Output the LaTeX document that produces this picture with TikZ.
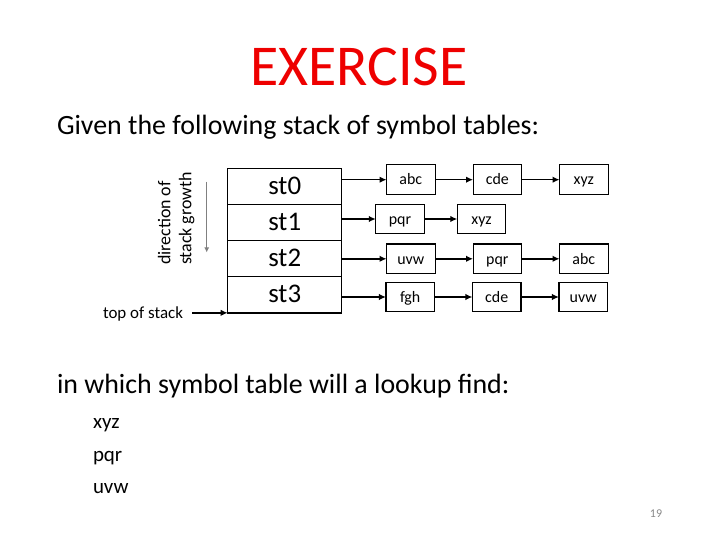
\documentclass[tikz,border=0pt]{standalone}
\usepackage{fontspec}
\setmainfont{Carlito}
\usepackage{xcolor}
\usetikzlibrary{arrows.meta,positioning}
\definecolor{titlered}{RGB}{238,0,0}
\definecolor{growgray}{RGB}{128,128,128}
\definecolor{pagegray}{RGB}{137,137,137}

\begin{document}
\begin{tikzpicture}[x=1bp,y=-1bp,node distance=38bp,>={Latex[length=7bp,width=6.5bp]},
  every node/.style={inner sep=0pt,outer sep=0pt},
  stk/.style={draw,line width=1.3bp,minimum width=114bp,minimum height=36.1bp,text height=19bp,text depth=3.4bp,font=\fontsize{27}{30}\selectfont},
  tab/.style={draw,line width=1.1bp,minimum width=48.5bp,minimum height=29.5bp,text height=13bp,text depth=2.4bp,font=\fontsize{16}{18}\selectfont},
  link/.style={->,line width=1.5bp}]
\useasboundingbox (0,0) rectangle (720,540);
\node[font=\fontsize{58}{62}\selectfont,text=titlered,anchor=base] (title) at (359,86) {EXERCISE};
\node[font=\fontsize{28}{32}\selectfont,anchor=base west] (given) at (57,134.3) {Given the following stack of symbol tables:};
% the stack
\node[stk] (st0) at (284.7,186.5) {st0};
\node[stk,below=0pt of st0] (st1) {st1};
\node[stk,below=0pt of st1] (st2) {st2};
\node[stk,below=0pt of st2] (st3) {st3};
\node[font=\fontsize{18}{21}\selectfont,rotate=90,align=left,anchor=north west] (growth) at (158,265) {direction of\\stack growth};
\coordinate (gtop) at (206.7,181.7);
\coordinate (gbot) at (206.7,252.5);
\draw[->,growgray,line width=1.5bp,>={Latex[length=5bp,width=5bp]}] (gtop) -- (gbot);
\node[font=\fontsize{17}{20}\selectfont,anchor=base east] (tos) at (183,318.5) {top of stack};
% the symbol tables
\node[tab] (abc0) at (410.8,179.7) {abc};
\node[tab,right=of abc0] (cde0) {cde};
\node[tab,right=of cde0] (xyz0) {xyz};
\node[tab] (pqr1) at (400,219) {pqr};
\node[tab,right=33bp of pqr1] (xyz1) {xyz};
\node[tab] (uvw2) at (410.8,258.8) {uvw};
\node[tab,right=of uvw2] (pqr2) {pqr};
\node[tab,right=of pqr2] (abc2) {abc};
\node[tab] (fgh3) at (410.2,297) {fgh};
\node[tab,right=of fgh3] (cde3) {cde};
\node[tab,right=of cde3] (uvw3) {uvw};
\draw[link] (st0.east |- abc0.west) -- (abc0.west);
\draw[link] (st1.east |- pqr1.west) -- (pqr1.west);
\draw[link] (st2.east |- uvw2.west) -- (uvw2.west);
\draw[link] (st3.east |- fgh3.west) -- (fgh3.west);
\draw[link] (abc0) -- (cde0);
\draw[link] (cde0) -- (xyz0);
\draw[link] (pqr1) -- (xyz1);
\draw[link] (uvw2) -- (pqr2);
\draw[link] (pqr2) -- (abc2);
\draw[link] (fgh3) -- (cde3);
\draw[link] (cde3) -- (uvw3);
\draw[link,shorten <=9bp] (tos.east |- st3.south) -- (st3.south west);
% the question
\node[font=\fontsize{28}{32}\selectfont,anchor=base west] (query) at (57,393.3) {in which symbol table will a lookup find:};
\node[font=\fontsize{21}{24}\selectfont,anchor=base west] (q1) at (93,428.3) {xyz};
\node[font=\fontsize{21}{24}\selectfont,anchor=base west] (q2) at (93,461.5) {pqr};
\node[font=\fontsize{21}{24}\selectfont,anchor=base west] (q3) at (93,493.3) {uvw};
\node[font=\fontsize{12}{14}\selectfont,text=pagegray] (page) at (656,514) {19};
\end{tikzpicture}
\end{document}
